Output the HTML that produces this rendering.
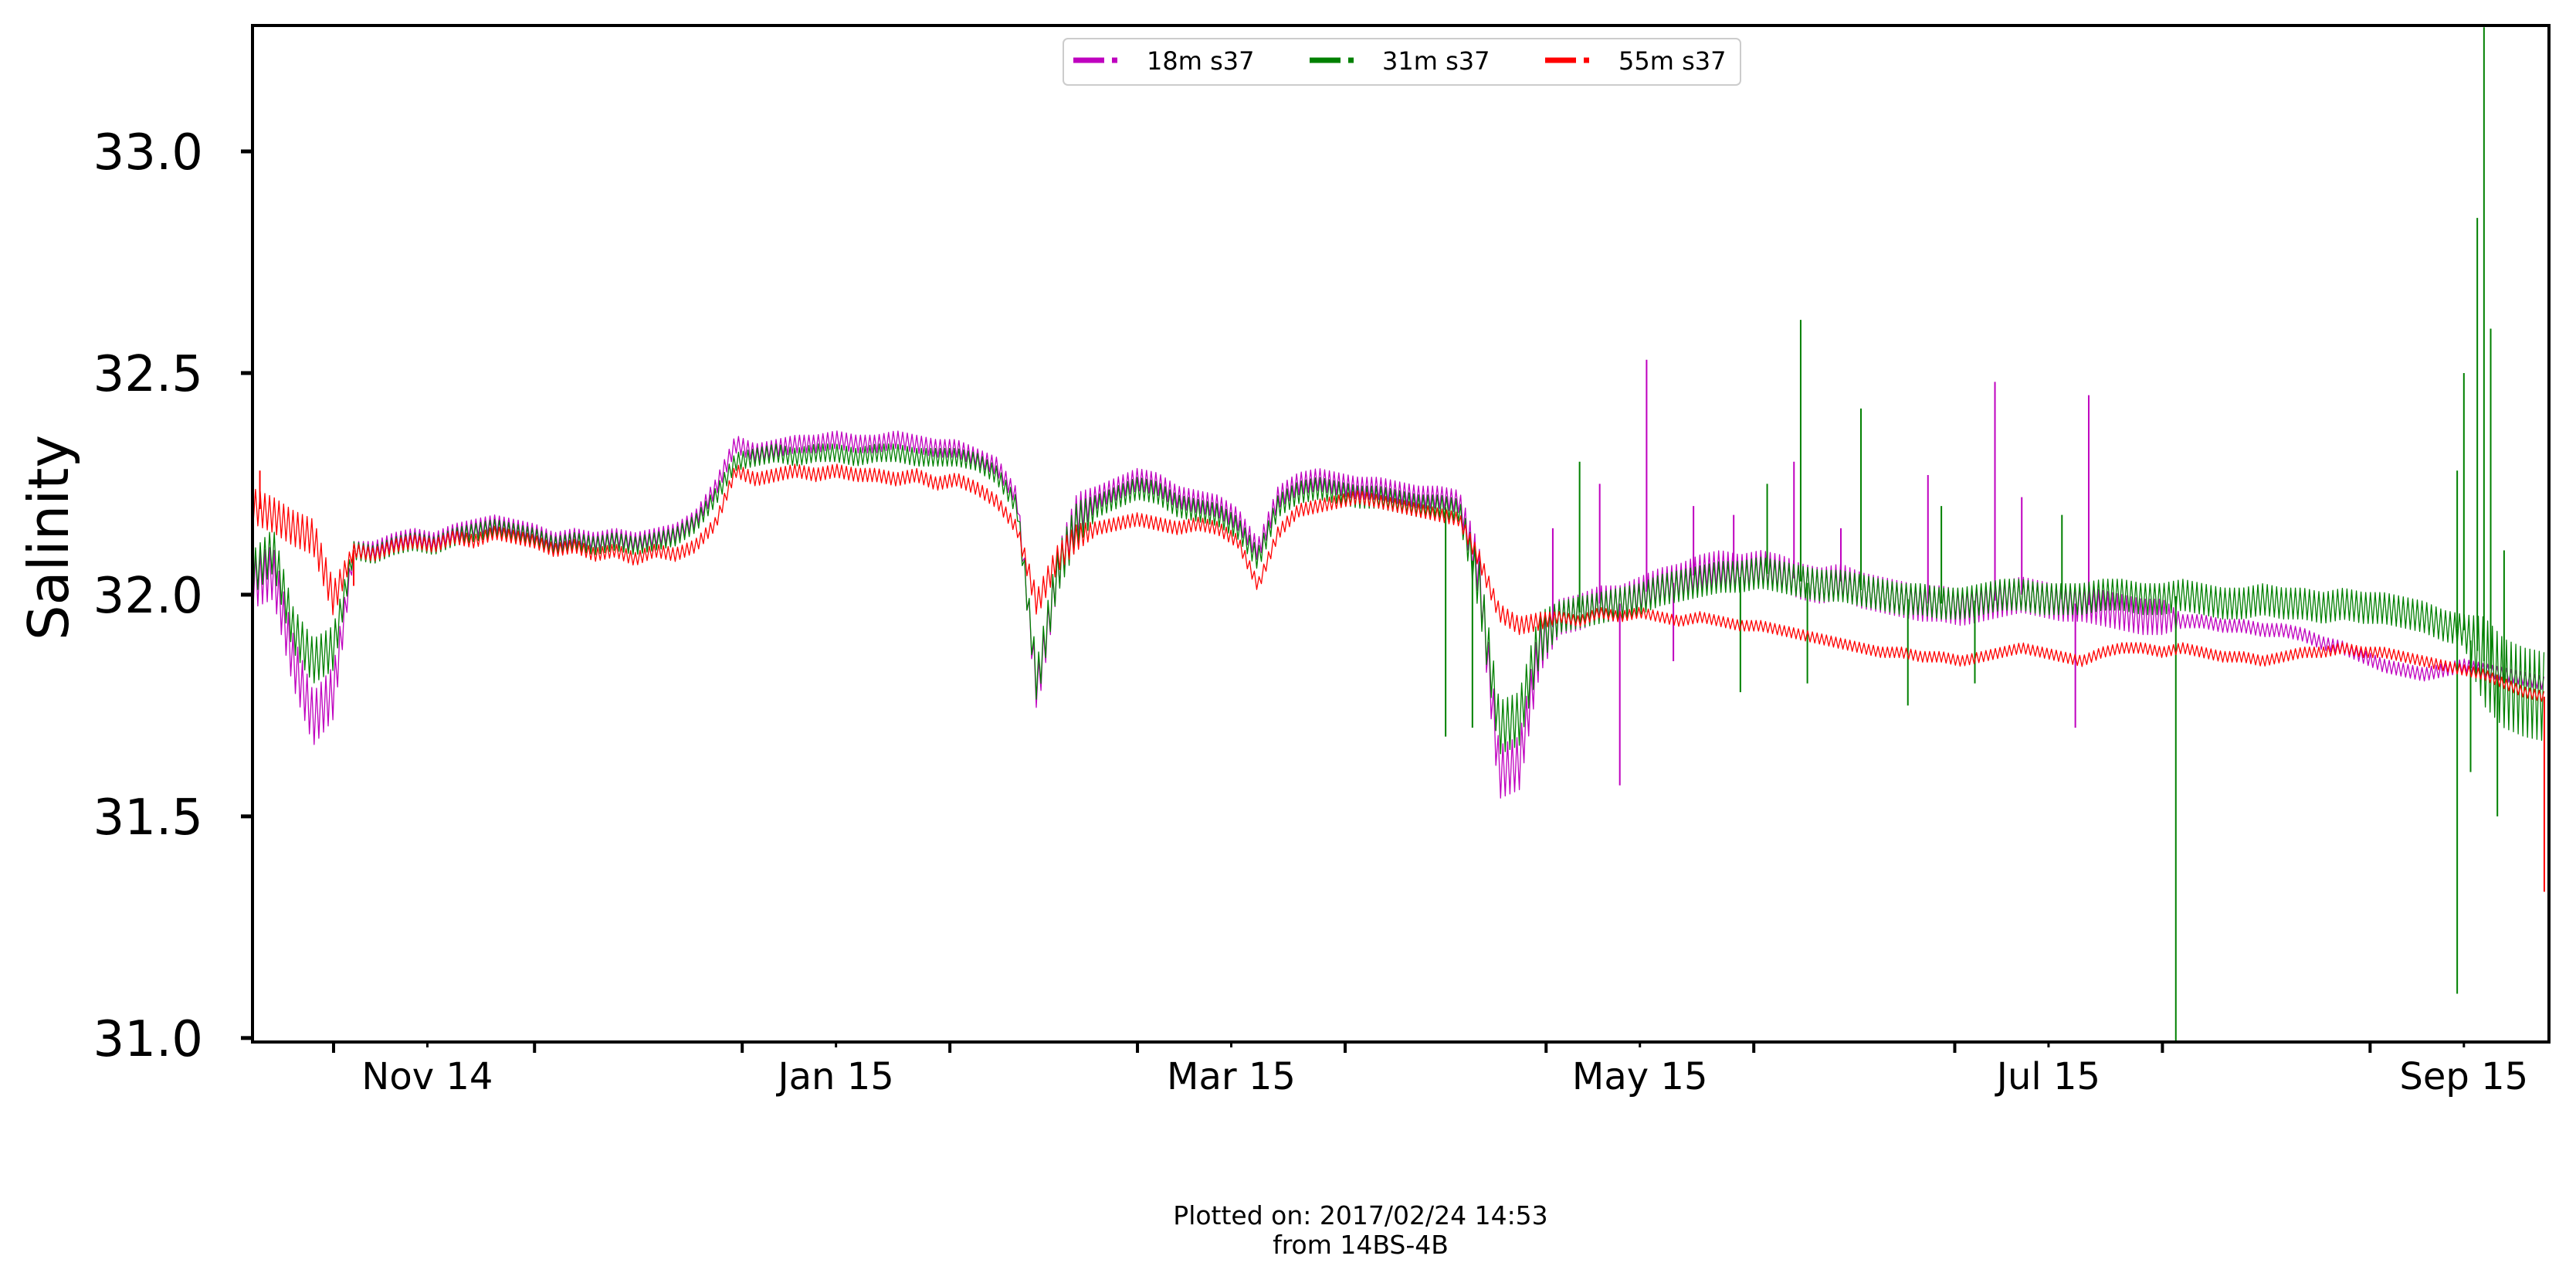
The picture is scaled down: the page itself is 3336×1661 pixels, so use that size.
<!DOCTYPE html>
<html><head><meta charset="utf-8"><style>
html,body{margin:0;padding:0;background:#fff}
svg{display:block;font-family:"DejaVu Sans","Liberation Sans",sans-serif}
</style></head><body>
<svg id="chart" width="3336" height="1661" viewBox="0 0 3336 1661" xmlns="http://www.w3.org/2000/svg">
<rect x="0" y="0" width="3336" height="1661" fill="#fff"/>
<g id="plot"></g>
<g id="axes"></g>
<text x="0" y="0" font-size="72" text-anchor="middle" transform="translate(88,696) rotate(-90)">Salinity</text>
<g>
<rect x="1377" y="50" width="877" height="60" rx="6" fill="#fff" stroke="#ccc" stroke-width="2"/>
<g><line x1="1390" y1="78" x2="1430" y2="78" stroke="#bf00bf" stroke-width="7"/><line x1="1440" y1="78" x2="1447" y2="78" stroke="#bf00bf" stroke-width="7"/><text x="1485" y="90" font-size="32">18m s37</text></g>
<g><line x1="1696" y1="78" x2="1736" y2="78" stroke="#008000" stroke-width="7"/><line x1="1746" y1="78" x2="1753" y2="78" stroke="#008000" stroke-width="7"/><text x="1790" y="90" font-size="32">31m s37</text></g>
<g><line x1="2001" y1="78" x2="2041" y2="78" stroke="#ff0000" stroke-width="7"/><line x1="2051" y1="78" x2="2058" y2="78" stroke="#ff0000" stroke-width="7"/><text x="2096" y="90" font-size="32">55m s37</text></g>
</g>
<text x="1762" y="1585" font-size="33" text-anchor="middle">Plotted on: 2017/02/24 14:53</text>
<text x="1762" y="1623" font-size="33" text-anchor="middle">from 14BS-4B</text>
</svg>
<script>
// days counted from 2014-11-01; series sampled every 3 days starting at day -12
const dayStart = -12;
const dayStep = 3;
const s55 = [32.20,32.18,32.15,32.13,31.99,32.10,32.09,32.11,32.12,32.11,32.13,32.12,32.14,32.13,32.12,32.10,32.11,32.09,32.10,32.08,32.10,32.09,32.11,32.16,32.28,32.26,32.27,32.28,32.27,32.28,32.27,32.27,32.26,32.27,32.25,32.26,32.24,32.21,32.15,31.98,32.08,32.13,32.15,32.16,32.17,32.16,32.15,32.16,32.15,32.12,32.02,32.14,32.19,32.20,32.21,32.22,32.21,32.20,32.19,32.18,32.17,32.08,31.96,31.93,31.94,31.95,31.94,31.96,31.95,31.96,31.95,31.94,31.95,31.94,31.93,31.93,31.92,31.91,31.90,31.89,31.88,31.87,31.87,31.86,31.86,31.85,31.86,31.87,31.88,31.87,31.86,31.85,31.87,31.88,31.88,31.87,31.88,31.87,31.86,31.86,31.85,31.86,31.87,31.87,31.88,31.87,31.87,31.86,31.85,31.84,31.83,31.82,31.80,31.78,31.77];
const s18 = [32.03,32.05,31.85,31.72,31.78,32.10,32.10,32.12,32.13,32.12,32.14,32.15,32.16,32.15,32.14,32.12,32.13,32.12,32.13,32.12,32.13,32.14,32.17,32.24,32.34,32.32,32.33,32.34,32.34,32.35,32.34,32.34,32.35,32.34,32.33,32.33,32.31,32.29,32.22,31.78,32.05,32.18,32.22,32.24,32.26,32.25,32.22,32.21,32.20,32.17,32.10,32.22,32.25,32.26,32.25,32.24,32.24,32.23,32.22,32.22,32.21,32.05,31.60,31.62,31.88,31.95,31.96,31.98,31.98,32.00,32.02,32.03,32.05,32.06,32.05,32.06,32.05,32.03,32.02,32.03,32.01,32.00,31.99,31.98,31.98,31.97,31.98,31.99,32.00,31.99,31.98,31.98,31.97,31.96,31.95,31.95,31.94,31.94,31.93,31.93,31.92,31.92,31.91,31.89,31.88,31.86,31.84,31.83,31.82,31.83,31.84,31.83,31.82,31.81,31.80];
const s31 = [32.05,32.10,31.92,31.85,31.88,32.10,32.09,32.11,32.12,32.11,32.13,32.14,32.15,32.14,32.13,32.11,32.12,32.11,32.12,32.11,32.12,32.13,32.16,32.22,32.30,32.31,32.32,32.31,32.32,32.32,32.31,32.32,32.32,32.31,32.31,32.31,32.30,32.27,32.20,31.80,32.05,32.16,32.20,32.22,32.24,32.23,32.20,32.19,32.18,32.15,32.08,32.20,32.23,32.24,32.23,32.22,32.22,32.21,32.20,32.20,32.19,32.02,31.70,31.72,31.90,31.95,31.96,31.97,31.98,31.99,32.01,32.02,32.03,32.04,32.04,32.05,32.04,32.03,32.02,32.02,32.01,32.00,31.99,31.99,31.98,31.98,31.99,32.00,32.00,31.99,31.99,31.99,32.00,32.00,31.99,31.99,32.00,31.99,31.98,31.98,31.99,31.98,31.98,31.97,31.98,31.97,31.97,31.96,31.95,31.93,31.92,31.85,31.80,31.78,31.77];
// half-width of the tidal noise band per sample
const n18 = [0.06,0.06,0.06,0.06,0.06,
0.02,0.02,0.02,0.02,0.02,0.02,0.02,0.02,0.02,0.02,0.02,0.02,0.02,0.02,0.02,0.02,0.02,0.02,
0.02,0.02,0.02,0.02,0.02,0.02,0.02,0.02,0.02,0.02,0.02,0.02,0.02,0.02,0.02,0.02,
0.05,0.05,0.05,
0.025,0.025,0.025,0.025,0.025,0.025,0.025,0.025,0.025,0.025,0.025,0.025,0.025,0.025,0.025,0.025,0.025,0.025,0.025,
0.06,0.06,0.06,0.06,
0.04,0.04,0.04,0.04,0.04,0.04,0.04,0.04,0.04,0.04,0.04,0.04,0.04,0.04,0.04,0.04,0.04,0.04,0.04,0.04,0.04,0.04,0.04,0.04,0.04,0.04,0.04,0.04,0.04,0.04,0.04,
0.015,0.015,0.015,0.015,0.015,0.015,0.015,0.015,0.015,0.015,0.015,0.015,0.015,0.015,0.015,0.015,0.015,0.015,0.015];
const n31 = [0.05,0.05,0.05,0.05,0.05,
0.02,0.02,0.02,0.02,0.02,0.02,0.02,0.02,0.02,0.02,0.02,0.02,0.02,0.02,0.02,0.02,0.02,0.02,
0.02,0.02,0.02,0.02,0.02,0.02,0.02,0.02,0.02,0.02,0.02,0.02,0.02,0.02,0.02,0.02,
0.05,0.05,0.05,
0.025,0.025,0.025,0.025,0.025,0.025,0.025,0.025,0.025,0.025,0.025,0.025,0.025,0.025,0.025,0.025,0.025,0.025,0.025,
0.06,0.06,0.06,0.06,
0.035,0.035,0.035,0.035,0.035,0.035,0.035,0.035,0.035,0.035,0.035,0.035,0.035,0.035,0.035,0.035,0.035,0.035,0.035,0.035,0.035,0.035,0.035,
0.035,0.035,0.035,0.035,0.035,0.035,0.035,0.035,0.035,0.035,0.035,0.035,0.035,0.035,0.035,0.035,0.035,0.035,0.035,0.035,0.035,0.035,0.035,
0.1,0.1,0.1,0.1];
const n55 = [0.04,0.04,0.04,0.04,0.04,
0.015,0.015,0.015,0.015,0.015,0.015,0.015,0.015,0.015,0.015,0.015,0.015,0.015,0.015,0.015,0.015,0.015,0.015,
0.015,0.015,0.015,0.015,0.015,0.015,0.015,0.015,0.015,0.015,0.015,0.015,0.015,0.015,0.015,0.015,
0.03,0.03,0.03,
0.015,0.015,0.015,0.015,0.015,0.015,0.015,0.015,0.015,0.015,0.015,0.015,0.015,0.015,0.015,0.015,0.015,0.015,0.015,
0.02,0.02,0.02,0.02,
0.012,0.012,0.012,0.012,0.012,0.012,0.012,0.012,0.012,0.012,0.012,0.012,0.012,0.012,0.012,0.012,0.012,0.012,0.012,0.012,0.012,0.012,0.012,0.012,0.012,
0.012,0.012,0.012,0.012,0.012,0.012,0.012,0.012,0.012,0.012,0.012,0.012,0.012,0.012,0.012,0.012,0.012,0.012,0.012,0.012,0.012,0.012,0.012,0.012,0.012];
// spikes: [day, value]
const spikes18 = [[189,32.25],[192,31.57],[196,32.53],[203,32.20],[218,32.30],[238,32.27],[248,32.48],[260,31.70],[262,32.45],[182,32.15],[209,32.18],[252,32.22],[200,31.85],[225,32.15]];
const spikes31 = [[186,32.30],[210,31.78],[219,32.62],[220,31.80],[228,32.42],[235,31.75],[245,31.80],[275,30.99],[317,31.10],[317,32.28],[320,32.85],[321,33.28],[322,32.60],[323,31.50],[319,31.60],[324,32.10],[318,32.50],[214,32.25],[240,32.20],[258,32.18],[166,31.68],[170,31.70]];
const spikes55 = [[330,31.33],[-11,32.28],[3,32.02]];
const yTicks = [31.0,31.5,32.0,32.5,33.0];
const yTickLabels = ["31.0","31.5","32.0","32.5","33.0"];
const xMajorDays = [0,30,61,92,120,151,181,212,242,273,304];
const xLabelDays = [14,75,134,195,256,318];
const xLabels = ["Nov 14","Jan 15","Mar 15","May 15","Jul 15","Sep 15"];

const L=327,R=3301,T=33,B=1349;
const dMin=-12.1,dMax=330.7,vMin=30.991,vMax=33.284;
const xs=d=>L+(d-dMin)/(dMax-dMin)*(R-L);
const ys=v=>B-(v-vMin)/(vMax-vMin)*(B-T);
const NS="http://www.w3.org/2000/svg";
const plot=document.getElementById('plot');
const axes=document.getElementById('axes');
function mk(tag,attrs,parent){const e=document.createElementNS(NS,tag);for(const k in attrs)e.setAttribute(k,attrs[k]);parent.appendChild(e);return e;}
const cp=mk('clipPath',{id:'clip'},plot);mk('rect',{x:L,y:T,width:R-L,height:B-T},cp);
function interp(arr,d){const f=(d-dayStart)/dayStep;const i=Math.max(0,Math.min(arr.length-2,Math.floor(f)));const t=Math.max(0,Math.min(1,f-i));return arr[i]*(1-t)+arr[i+1]*t;}
function drawSeries(arr,amp,spk,color,name){
  const g=mk('g',{'clip-path':'url(#clip)'},plot);
  
  
  const lastDay=dayStart+(arr.length-1)*dayStep;
  const pts=[];
  let k=0;
  for(let d=dayStart; d<=lastDay+0.001; d+=0.35){
    const v=interp(arr,d)+(k%2?1:-1)*interp(amp,d);
    pts.push(xs(d).toFixed(1)+','+ys(v).toFixed(1));
    k++;
  }
  const pl=mk('polyline',{points:pts.join(' '),fill:'none',stroke:color,'stroke-width':1.3,'stroke-linejoin':'round'},g);
  
  
  spk.forEach(s=>{
    const x=xs(s[0]);
    const ln=mk('line',{x1:x,x2:x,y1:ys(interp(arr,s[0])),y2:ys(s[1]),stroke:color,'stroke-width':2},g);
    
    
  });
}
drawSeries(s18,n18,spikes18,'#bf00bf','series-18m');
drawSeries(s31,n31,spikes31,'#008000','series-31m');
drawSeries(s55,n55,spikes55,'#ff0000','series-55m');

const fr=mk('rect',{x:L,y:T,width:R-L,height:B-T,fill:'none',stroke:'#000','stroke-width':4},axes);


yTicks.forEach((v,i)=>{
  const y=ys(v);
  const t=mk('line',{x1:L-15,x2:L,y1:y,y2:y,stroke:'#000','stroke-width':5},axes);
  
  
  const tx=mk('text',{x:263,y:y+23,'font-size':64,'text-anchor':'end'},axes);
  tx.textContent=yTickLabels[i];
  
  
});
xMajorDays.forEach(d=>{
  const x=xs(d);
  const t=mk('line',{x1:x,x2:x,y1:B,y2:B+14,stroke:'#000','stroke-width':4},axes);
  
  
});
xLabelDays.forEach((d,i)=>{
  const x=xs(d);
  const t=mk('line',{x1:x,x2:x,y1:B,y2:B+7,stroke:'#000','stroke-width':3},axes);
  
  
  const tx=mk('text',{x:x,y:1410,'font-size':48,'text-anchor':'middle'},axes);
  tx.textContent=xLabels[i];
  
  
});
</script>
</body></html>
